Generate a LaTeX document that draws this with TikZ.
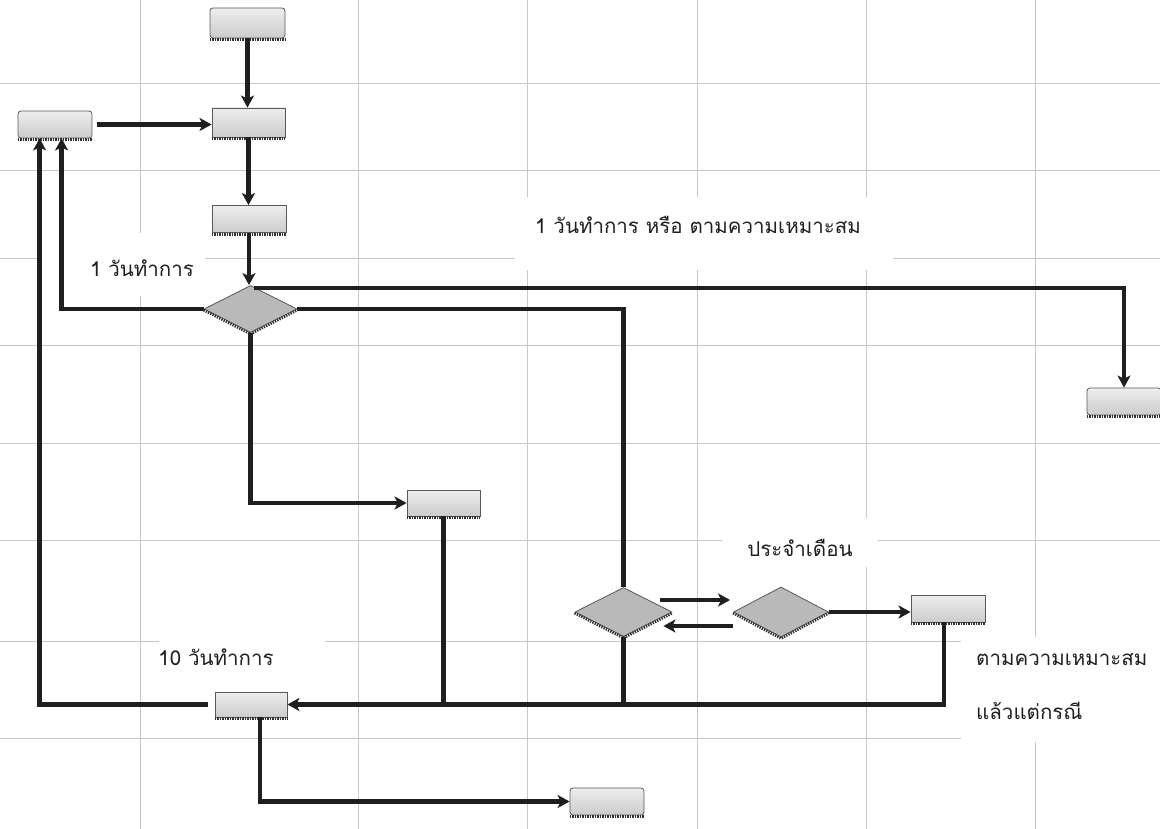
\documentclass[tikz,border=0pt]{standalone}
\usepackage{fontspec}
\newfontfamily\thaifont[Script=Thai]{Loma}
\usetikzlibrary{shapes.geometric,arrows.meta}
\begin{document}
\begin{tikzpicture}[x=1pt,y=-1pt,
 gridline/.style={draw=black!22, line width=0.5pt},
 mask/.style={fill=white, draw=none},
 box/.style={rectangle, draw=black!65, line width=0.8pt, top color=gray!14, bottom color=gray!40, minimum width=74pt, minimum height=27pt, inner sep=0pt},
 rbox/.style={box, rounded corners=3pt},
 dia/.style={diamond, draw=black!65, line width=0.8pt, fill=gray!55, inner sep=0pt},
 conn/.style={draw=black!88, line width=4.3pt},
 arr/.style={conn, -{Stealth[length=12pt,width=13pt,inset=3pt]}},
 shade/.style={draw=black!80, line width=2.8pt, dash pattern=on 1.4pt off 1.1pt},
 lbl/.style={font=\thaifont\fontsize{20.5}{24}\selectfont, text=black!88, inner sep=0pt}
]
\useasboundingbox (0,0) rectangle (1160,829);
\fill[white] (0,0) rectangle (1160,829);
% grid
\foreach \x in {140,358,527,697,866,1035} \draw[gridline] (\x,0) -- (\x,829);
\foreach \y in {83,170,258,345,443,540,641,738} \draw[gridline] (0,\y) -- (1160,\y);
% white text areas
\fill[mask] (515,197) rectangle (893,270);
\fill[mask] (37,233) rectangle (205,296);
\fill[mask] (722,518) rectangle (878,567);
\fill[mask] (159,625) rectangle (325,690);
\fill[mask] (961,637) rectangle (1160,742);
% nodes
\node[rbox, minimum width=75pt, minimum height=30pt] (A) at (247.5,23) {};
\node[box, minimum width=73pt, minimum height=29pt] (B) at (248.5,122.5) {};
\node[rbox] (L) at (55,124.5) {};
\node[box] (C) at (249,219) {};
\node[dia, minimum width=93pt, minimum height=47pt] (D1) at (250.5,309) {};
\node[rbox] (R) at (1124,401.5) {};
\node[box, minimum width=73pt, minimum height=26pt] (E) at (443.5,503) {};
\node[dia, minimum width=97pt, minimum height=49pt] (D2) at (623.5,612) {};
\node[dia, minimum width=95pt, minimum height=50pt] (D3) at (781,612) {};
\node[box] (F) at (948,608.5) {};
\node[box, minimum width=72pt, minimum height=25pt] (G) at (251,704.5) {};
\node[rbox] (H) at (607,801.5) {};
% shadows
\foreach \n in {A,B,L,C,R,E,F,G,H}
  \draw[shade] ([yshift=-1.4pt]\n.south west) -- ([yshift=-1.4pt]\n.south east);
\foreach \n in {D1,D2,D3}
  \draw[shade] ([yshift=-1pt]\n.west) -- ([yshift=-1pt]\n.south) -- ([yshift=-1pt]\n.east);
% connectors
\draw[arr] (A.south) -- (A.south |- B.north);
\draw[arr] ([xshift=5pt]L.east) -- (L.east -| B.west);
\draw[arr] (B.south) -- (B.south |- C.north);
\draw[arr] (C.south) -- (C.south |- D1.north);
\draw[arr] (D1.west) -| ([xshift=44pt]L.south west);
\draw[arr] ([xshift=3pt,yshift=-3pt]D1.north) -| (R.north);
\draw[conn] (D1.east) -| (D2.north);
\draw[arr] (D1.south) |- (E.west);
\draw[arr] ([xshift=-12pt,yshift=12pt]D2.east) -- ([xshift=-3pt,yshift=12pt]D3.west);
\draw[arr] ([yshift=-14pt]D3.west) -- ([xshift=-9pt,yshift=-14pt]D2.east);
\draw[arr] (D3.east) -- (D3.east -| F.west);
\draw[arr] ([xshift=-4pt]F.south) |- (G.east);
\draw[conn] (E.south) -- (E.south |- G.east);
\draw[conn] (D2.south) -- (D2.south |- G.east);
\draw[arr] ([xshift=-7pt]G.west) -| ([xshift=22pt]L.south west);
\draw[arr] ([xshift=9pt]G.south) |- (H.west);
% labels
\node[lbl] (t1) at (142,268) {1 วันทำการ};
\node[lbl] (t2) at (698,225) {1 วันทำการ หรือ ตามความเหมาะสม};
\node[lbl] (t3) at (800,548) {ประจำเดือน};
\node[lbl] (t4) at (216,657) {10 วันทำการ};
\node[lbl, anchor=west] (t5) at (976,660) {ตามความเหมาะสม};
\node[lbl, anchor=west] (t6) at (976,711) {แล้วแต่กรณี};
\end{tikzpicture}
\end{document}
